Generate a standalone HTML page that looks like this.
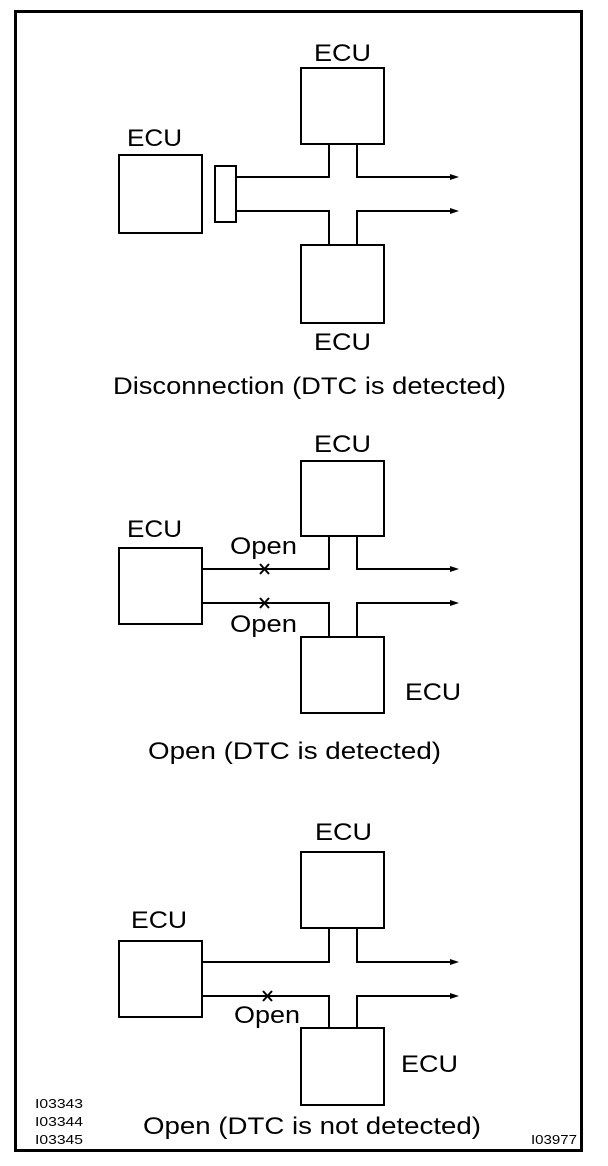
<!DOCTYPE html>
<html><head><meta charset="utf-8"><style>
html,body{margin:0;padding:0;background:#fff;}
svg{display:block;}
text{font-family:"Liberation Sans",Arial,sans-serif;fill:#000;}
</style></head><body>
<svg width="608" height="1166" viewBox="0 0 608 1166" xmlns="http://www.w3.org/2000/svg">
<rect x="15.5" y="11.5" width="566" height="1139" fill="none" stroke="#000" stroke-width="3"/>
<g fill="none" stroke="#000" stroke-width="2">
<!-- Diagram 1 -->
<rect x="301" y="68" width="83" height="76"/>
<rect x="119" y="155" width="83" height="78"/>
<rect x="215" y="166" width="21" height="56"/>
<rect x="301" y="245" width="83" height="78"/>
<polyline points="236,177 329,177 329,144"/>
<polyline points="236,211 329,211 329,245"/>
<polyline points="357,144 357,177 452,177"/>
<polyline points="357,245 357,211 452,211"/>
<!-- Diagram 2 -->
<rect x="301" y="461" width="83" height="75"/>
<rect x="119" y="548" width="83" height="76"/>
<rect x="301" y="637" width="83" height="76"/>
<polyline points="202,569 329,569 329,536"/>
<polyline points="202,603 329,603 329,637"/>
<polyline points="357,536 357,569 452,569"/>
<polyline points="357,637 357,603 452,603"/>
<!-- Diagram 3 -->
<rect x="301" y="852" width="83" height="76"/>
<rect x="119" y="941" width="83" height="76"/>
<rect x="301" y="1028" width="83" height="77"/>
<polyline points="202,962 329,962 329,928"/>
<polyline points="202,996 329,996 329,1028"/>
<polyline points="357,928 357,962 452,962"/>
<polyline points="357,1028 357,996 452,996"/>
</g>
<g stroke="#000" stroke-width="2">
<line x1="260" y1="564" x2="269" y2="574"/><line x1="269" y1="564" x2="260" y2="574"/>
<line x1="260" y1="598" x2="269" y2="608"/><line x1="269" y1="598" x2="260" y2="608"/>
<line x1="263" y1="991" x2="272" y2="1001"/><line x1="272" y1="991" x2="263" y2="1001"/>
</g>
<g fill="#000">
<polygon points="450,174 459,177 450,180"/>
<polygon points="450,208 459,211 450,214"/>
<polygon points="450,566 459,569 450,572"/>
<polygon points="450,600 459,603 450,606"/>
<polygon points="450,959 459,962 450,965"/>
<polygon points="450,993 459,996 450,999"/>
</g>
<g font-size="24">
<text x="314" y="61" textLength="57" lengthAdjust="spacingAndGlyphs">ECU</text>
<text x="127" y="146" textLength="55" lengthAdjust="spacingAndGlyphs">ECU</text>
<text x="314" y="350" textLength="57" lengthAdjust="spacingAndGlyphs">ECU</text>
<text x="113" y="394" textLength="393" lengthAdjust="spacingAndGlyphs">Disconnection (DTC is detected)</text>

<text x="314" y="452" textLength="57" lengthAdjust="spacingAndGlyphs">ECU</text>
<text x="127" y="537" textLength="55" lengthAdjust="spacingAndGlyphs">ECU</text>
<text x="230" y="554" textLength="67" lengthAdjust="spacingAndGlyphs">Open</text>
<text x="230" y="632" textLength="67" lengthAdjust="spacingAndGlyphs">Open</text>
<text x="405" y="700" textLength="56" lengthAdjust="spacingAndGlyphs">ECU</text>
<text x="148" y="759" textLength="293" lengthAdjust="spacingAndGlyphs">Open (DTC is detected)</text>

<text x="315" y="840" textLength="57" lengthAdjust="spacingAndGlyphs">ECU</text>
<text x="131" y="928" textLength="56" lengthAdjust="spacingAndGlyphs">ECU</text>
<text x="234" y="1023" textLength="66" lengthAdjust="spacingAndGlyphs">Open</text>
<text x="401" y="1072" textLength="57" lengthAdjust="spacingAndGlyphs">ECU</text>
<text x="143" y="1134" textLength="338" lengthAdjust="spacingAndGlyphs">Open (DTC is not detected)</text>
</g>
<g font-size="13">
<text x="35" y="1108" textLength="48" lengthAdjust="spacingAndGlyphs">I03343</text>
<text x="35" y="1126" textLength="48" lengthAdjust="spacingAndGlyphs">I03344</text>
<text x="35" y="1144" textLength="48" lengthAdjust="spacingAndGlyphs">I03345</text>
<text x="531" y="1144" textLength="46" lengthAdjust="spacingAndGlyphs">I03977</text>
</g>
</svg>
</body></html>
